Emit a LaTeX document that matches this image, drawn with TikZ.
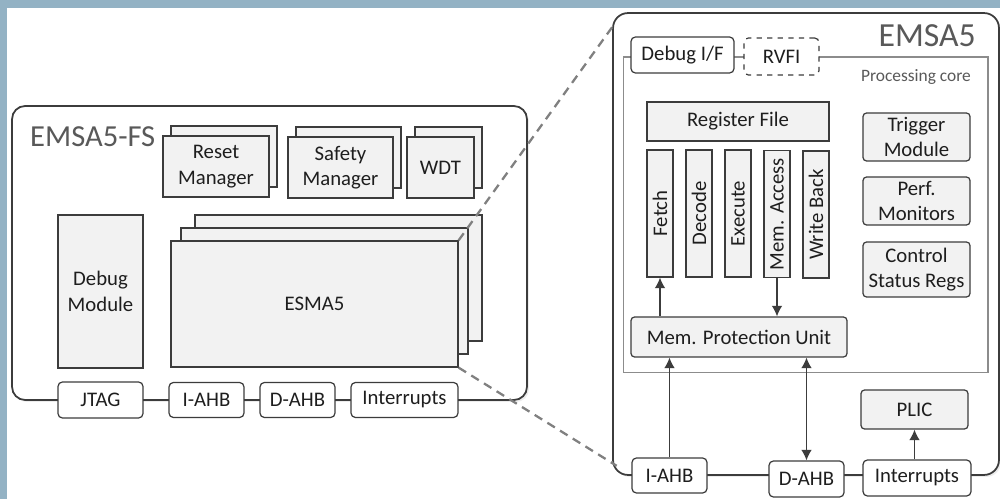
\documentclass[tikz,border=0pt]{standalone}
\usepackage{fontspec}
\usepackage{graphicx}
\setmainfont{Carlito}
\usetikzlibrary{arrows.meta,shadows}

\definecolor{band}{RGB}{147,178,196}
\definecolor{boxfill}{RGB}{242,242,242}
\definecolor{boxline}{RGB}{60,60,60}
\definecolor{txt}{RGB}{30,30,30}
\definecolor{titlegray}{RGB}{89,89,89}
\definecolor{dashgray}{RGB}{128,128,128}
\definecolor{coregray}{RGB}{140,140,140}

\begin{document}
\begin{tikzpicture}[x=0.02cm,y=-0.02cm]
	\tikzstyle{every node}=[font=\fontsize{11.8}{14.4}\selectfont, text=txt]
	\tikzstyle{blk}=[draw=boxline, fill=boxfill, line width=0.7pt, inner sep=0pt, align=center]
	\tikzstyle{port}=[blk, fill=white, rounded corners=2.5pt]
	\tikzstyle{stack}=[blk, copy shadow={draw=boxline, fill=boxfill, line width=0.7pt, shadow xshift=0.16cm, shadow yshift=0.2cm}]
	\tikzstyle{outer}=[draw=boxline, fill=white, line width=1pt, drop shadow={opacity=0.15, shadow xshift=0.04cm, shadow yshift=-0.04cm}]
	\tikzstyle{arr}=[-{Latex[length=6pt,width=6pt]}, draw=boxline, line width=0.7pt]
	\tikzstyle{zoomline}=[draw=dashgray, dash pattern=on 5pt off 3.5pt, line width=1.3pt]
	
	\fill [band] (0,0) rectangle (1000,499);
	\fill [white] (7,8) rectangle (1000,499);
	\useasboundingbox (0,0) rectangle (1000,499);
	
	% EMSA5-FS
	\node [outer, rounded corners=0.26cm, minimum width=10.3cm, minimum height=5.88cm] (fs) at (269.5,253) {};
	\node [font=\fontsize{17.4}{20}\selectfont, text=titlegray, anchor=base west] (fstitle) at (24,147) {EMSA5-FS};
	
	\node [stack, minimum width=2.12cm, minimum height=1.22cm] (reset) at (216,166.5) {Reset\\Manager};
	\node [stack, minimum width=2.1cm, minimum height=1.22cm] (safety) at (340.5,167.5) {Safety\\Manager};
	\node [stack, minimum width=1.34cm, minimum height=1.22cm] (wdt) at (440.5,167.5) {WDT};
	
	\node [blk, minimum width=1.7cm, minimum height=3.06cm] (dbgmod) at (100.5,291.5) {Debug\\Module};
	\node [blk, copy shadow={draw=boxline, fill=boxfill, line width=0.7pt, shadow xshift=0.48cm, shadow yshift=0.52cm},
		copy shadow={draw=boxline, fill=boxfill, line width=0.7pt, shadow xshift=0.2cm, shadow yshift=0.26cm},
		minimum width=5.74cm, minimum height=2.52cm] (esma) at (314.5,304) {ESMA5};
	
	\node [port, minimum width=1.7cm, minimum height=0.72cm] (jtag) at (100.5,400) {JTAG};
	\node [port, minimum width=1.5cm, minimum height=0.7cm] (iahb) at (206.5,400) {I-AHB};
	\node [port, minimum width=1.5cm, minimum height=0.7cm] (dahb) at (297.5,400) {D-AHB};
	\node [port, minimum width=2.14cm, minimum height=0.7cm] (irq) at (404.5,400) {Interrupts};
	
	% EMSA5
	\node [outer, rounded corners=0.3cm, minimum width=7.72cm, minimum height=9.24cm] (emsa) at (806,244) {};
	\node [font=\fontsize{19.2}{22}\selectfont, text=titlegray, anchor=base east] (emsatitle) at (982,47) {EMSA5};
	\node [draw=coregray, line width=0.6pt, minimum width=7.3cm, minimum height=6.32cm] (core) at (805.5,215) {};
	\node [font=\fontsize{9.9}{12}\selectfont, text=titlegray, anchor=base east] (corelbl) at (977,82) {Processing core};
	
	\node [port, minimum width=2.06cm, minimum height=0.72cm] (dbgif) at (682.5,55) {Debug I/F};
	\node [port, dashed, minimum width=1.5cm, minimum height=0.74cm] (rvfi) at (781.5,56.5) {RVFI};
	
	\node [blk, minimum width=3.64cm, minimum height=0.78cm] (regfile) at (738,121.5) {Register File};
	\node [blk, minimum width=0.52cm, minimum height=2.54cm] (fetch) at (660,213.5) {\rotatebox{90}{Fetch}};
	\node [blk, minimum width=0.52cm, minimum height=2.54cm] (decode) at (699,213.5) {\rotatebox{90}{Decode}};
	\node [blk, minimum width=0.52cm, minimum height=2.54cm] (exec) at (738,213.5) {\rotatebox{90}{Execute}};
	\node [blk, minimum width=0.52cm, minimum height=2.54cm] (memacc) at (777,214) {\rotatebox{90}{Mem. Access}};
	\node [blk, minimum width=0.52cm, minimum height=2.54cm] (wb) at (816,214.5) {\rotatebox{90}{Write Back}};
	
	\node [blk, rounded corners=2pt, minimum width=2.14cm, minimum height=0.96cm] (trig) at (916.5,137) {Trigger\\Module};
	\node [blk, rounded corners=2pt, minimum width=2.14cm, minimum height=0.96cm] (perf) at (916.5,201) {Perf.\\Monitors};
	\node [blk, rounded corners=2pt, minimum width=2.14cm, minimum height=1.1cm] (csr) at (916.5,269.5) {Control\\Status Regs};
	
	\node [blk, rounded corners=2pt, minimum width=4.32cm, minimum height=0.8cm] (mpu) at (739,337) {Mem. Protection Unit};
	\node [blk, rounded corners=2pt, minimum width=2.14cm, minimum height=0.78cm] (plic) at (914.5,409.5) {PLIC};
	
	\node [port, minimum width=1.5cm, minimum height=0.7cm] (iahbr) at (669.5,475.5) {I-AHB};
	\node [port, minimum width=1.5cm, minimum height=0.72cm] (dahbr) at (806.5,479) {D-AHB};
	\node [port, minimum width=2.16cm, minimum height=0.72cm] (irqr) at (917,478) {Interrupts};
	
	\draw [arr] (mpu.north -| fetch.south) -- (fetch.south);
	\draw [arr] (memacc.south) -- (memacc.south |- mpu.north);
	\draw [arr] (iahbr.north) -- (iahbr.north |- mpu.south);
	\draw [arr, {Latex[length=6pt,width=6pt]}-{Latex[length=6pt,width=6pt]}] (dahbr.north) -- (dahbr.north |- mpu.south);
	\draw [arr] (plic.south |- irqr.north) -- (plic.south);
	
	% zoom lines
	\coordinate (zt) at ([yshift=-0.3cm]emsa.north west);
	\coordinate (zb) at ([xshift=0.09cm,yshift=0.2cm]emsa.south west);
	\draw [zoomline] (esma.north east) -- (zt);
	\draw [zoomline] (esma.south east) -- (zb);
	
\end{tikzpicture}
\end{document}
